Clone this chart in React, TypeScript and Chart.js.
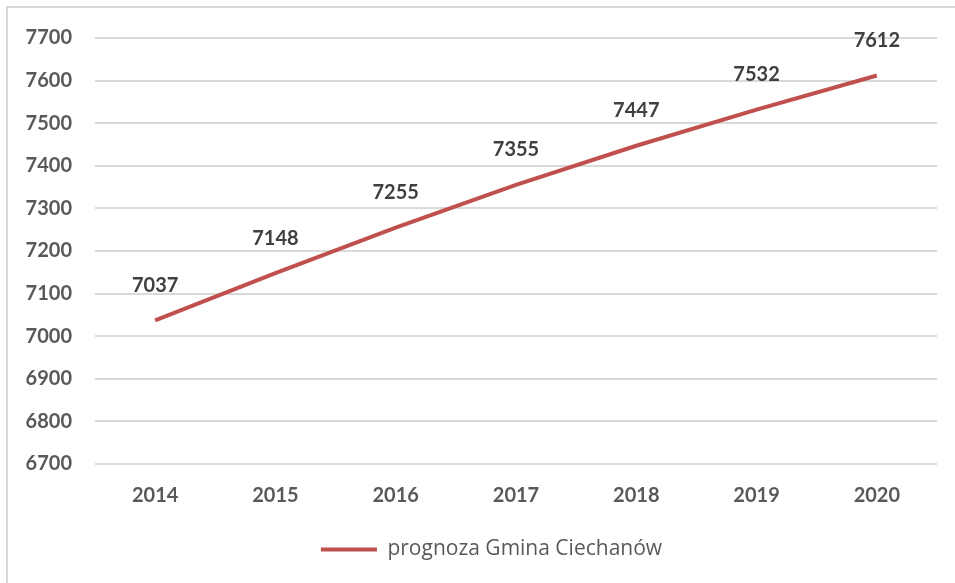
import React, { useEffect, useRef } from "react";
import { Chart, registerables } from "chart.js";

Chart.register(...registerables);

const years = ["2014", "2015", "2016", "2017", "2018", "2019", "2020"];
const forecast = [7037, 7148, 7255, 7355, 7447, 7532, 7612];
const seriesName = "prognoza Gmina Ciechanów";
const yMin = 6700;
const yMax = 7700;
const yStep = 100;

const FONT = "Lato, 'Open Sans', sans-serif";
const RED = "#C0504D";
const GRAY = "#595959";

const labelPlugin = {
  id: "valueLabels",
  afterDatasetsDraw(chart: any) {
    const ctx = chart.ctx;
    const meta = chart.getDatasetMeta(0);
    const data = chart.data.datasets[0].data as number[];
    ctx.save();
    ctx.font = `bold 20px ${FONT}`;
    ctx.fillStyle = "#404040";
    ctx.textAlign = "center";
    ctx.textBaseline = "middle";
    meta.data.forEach((pt: any, i: number) => {
      ctx.fillText(String(data[i]), pt.x, pt.y - 35);
    });
    ctx.restore();
  },
};

const legendShift = {
  id: "legendShift",
  afterLayout(chart: any) {
    if (chart.legend) chart.legend.left += 38;
  },
};

export default function App() {
  const ref = useRef<HTMLCanvasElement>(null);
  useEffect(() => {
    if (!ref.current) return;
    const chart = new Chart(ref.current, {
      type: "line",
      data: {
        labels: years,
        datasets: [
          {
            label: seriesName,
            data: forecast,
            borderColor: RED,
            backgroundColor: RED,
            borderWidth: 4,
            pointRadius: 0,
            pointStyle: "line",
            tension: 0,
          },
        ],
      },
      options: {
        animation: false,
        responsive: false,
        maintainAspectRatio: false,
        layout: { padding: { left: 0, right: 18, top: 30, bottom: 13 } },
        plugins: {
          tooltip: { enabled: false },
          legend: {
            position: "bottom",
            labels: {
              usePointStyle: true,
              pointStyleWidth: 56,
              color: GRAY,
              font: { family: "'Open Sans', sans-serif", size: 21 },
              padding: 10,
            },
          },
        },
        scales: {
          x: {
            offset: true,
            grid: { display: false, drawTicks: false },
            border: { display: false },
            ticks: {
              color: GRAY,
              font: { family: FONT, size: 20, weight: "bold" },
              padding: 20,
            },
            afterFit(scale: any) {
              scale.height = 65;
            },
          },
          y: {
            min: yMin,
            max: yMax,
            grid: { color: "#D9D9D9", lineWidth: 2, drawTicks: false },
            border: { display: false },
            ticks: {
              stepSize: yStep,
              color: GRAY,
              font: { family: FONT, size: 20, weight: "bold" },
              padding: 23,
              callback: (v: any) => String(v),
            },
            afterFit(scale: any) {
              scale.width = 87;
              scale.paddingTop = 0;
              scale.paddingBottom = 0;
            },
          },
        },
      },
      plugins: [labelPlugin, legendShift],
    });
    return () => chart.destroy();
  }, []);
  return (
    <div
      style={{
        position: "fixed",
        left: 6,
        top: 6,
        width: 949,
        height: 577,
        borderLeft: "2px solid #D9D9D9",
        borderTop: "2px solid #D9D9D9",
        background: "#fff",
      }}
    >
      <canvas ref={ref} width={947} height={575} style={{ display: "block" }} />
    </div>
  );
}
